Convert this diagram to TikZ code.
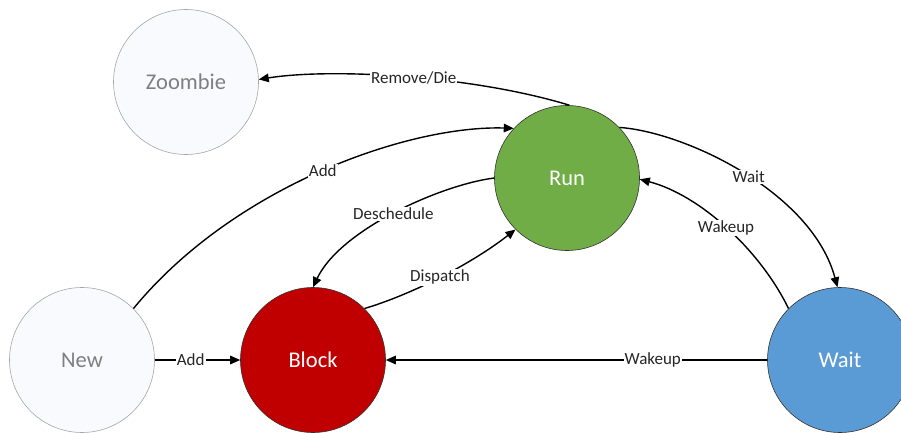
\documentclass[tikz,border=0pt]{standalone}
\usepackage{fontspec}
\setmainfont{Carlito}
\usetikzlibrary{arrows.meta}
\definecolor{rungreen}{HTML}{70AD47}
\definecolor{blockred}{HTML}{C00000}
\definecolor{waitblue}{HTML}{5B9BD5}
\definecolor{palefill}{HTML}{F8FAFD}
\definecolor{paleedge}{HTML}{A6A6A6}
\definecolor{paletext}{HTML}{7F7F7F}
\begin{document}
\begin{tikzpicture}[x=1pt,y=-1pt,
  state/.style={circle,minimum size=145pt,inner sep=0pt,font=\fontsize{22.5}{26}\selectfont,text=white,draw=black!80,line width=0.6pt},
  ghost/.style={state,fill=palefill,draw=paleedge,text=paletext},
  trans/.style={line width=1.4pt,-{Triangle[length=10pt,width=8.5pt]}},
  lbl/.style={fill=white,inner sep=1pt,font=\fontsize{17}{19}\selectfont,text=black!85}]
  \clip (0,0) rectangle (901,433);

  % states
  \node[ghost] (zoom) at (186,82) {Zoombie};
  \node[state,fill=rungreen] (run) at (567,178) {Run};
  \node[ghost] (new) at (82,360) {New};
  \node[state,fill=blockred] (block) at (313,360) {Block};
  \node[state,fill=waitblue] (wait) at (840,360) {Wait};

  % transitions
  \draw[trans] (run.88) .. controls (470,75) and (330,68) .. node[lbl,pos=0.47] {Remove/Die} (zoom.2);
  \draw[trans] (new.45) .. controls (235,185) and (410,125) .. node[lbl,pos=0.5] {Add} (run.137);
  \draw[trans] (run.44) .. controls (685,132) and (812,192) .. node[lbl,pos=0.52] {Wait} (wait.92);
  \draw[trans] (wait.135) .. controls (760,250) and (700,195) .. node[lbl,pos=0.5] {Wakeup} (run.-1);
  \draw[trans] (run.180) .. controls (440,185) and (340,230) .. node[lbl,pos=0.5] {Deschedule} (block.90);
  \draw[trans] (block.45) .. controls (410,295) and (470,265) .. node[lbl,pos=0.5] {Dispatch} (run.225);
  \draw[trans] (new) -- node[lbl,pos=0.42] {Add} (block);
  \draw[trans] (wait) -- node[lbl,pos=0.3] {Wakeup} (block);
\end{tikzpicture}
\end{document}
